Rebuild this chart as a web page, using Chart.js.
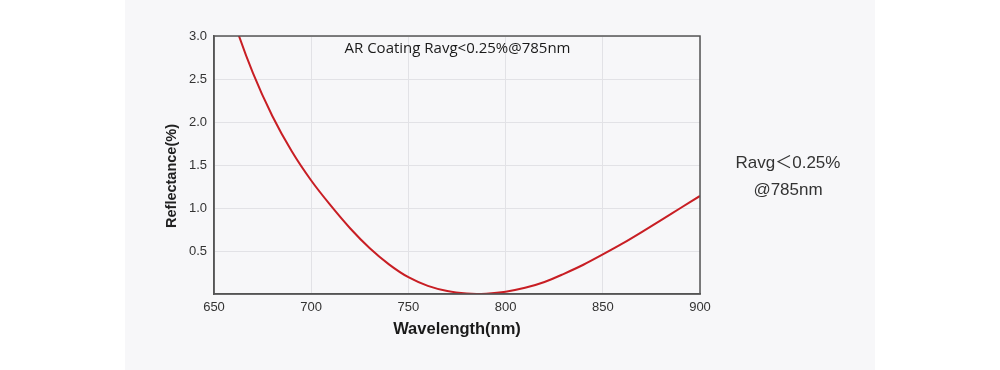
<!DOCTYPE html>
<html>
<head>
<meta charset="utf-8">
<script src="https://cdn.jsdelivr.net/npm/chart.js@4/dist/chart.umd.min.js"></script>
<style>
    html, body { margin: 0; padding: 0; background: #ffffff; }
    #wrap { position: relative; width: 1000px; height: 370px; }
    #panel { position: absolute; left: 125px; top: 0; width: 750px; height: 370px; background: #f7f7f9; }
    #chart { position: absolute; left: 0; top: 0; }
    .note { position: absolute; white-space: nowrap; }
    #inner { left: 215px; width: 485px; top: 37px; text-align: center; font-size: 15px; line-height: 20px;
             color: #1a1a1a; font-family: "Open Sans", "Noto Sans", sans-serif; }
    #side { left: 708px; width: 160px; top: 149px; text-align: center; font-size: 17px; line-height: 27px;
            color: #333; font-family: "Liberation Sans", Arial, "Noto Sans CJK SC", sans-serif; }
    #ytitle { left: 91px; width: 160px; top: 166px; text-align: center; font-size: 14.5px; line-height: 20px;
              font-weight: bold; color: #222; font-family: "Liberation Sans", Arial, sans-serif;
              transform: rotate(-90deg); }
</style>
</head>
<body>
<div id="wrap">
    <div id="panel"></div>
    <canvas id="chart" width="1000" height="370"></canvas>
    <div class="note" id="inner">AR Coating Ravg&lt;0.25%@785nm</div>
    <div class="note" id="side">Ravg＜0.25%<br>@785nm</div>
    <div class="note" id="ytitle">Reflectance(%)</div>
</div>
<script>
// values
const wavelengths = [650, 660, 670, 680, 690, 700, 710, 720, 730, 740, 750, 760, 770, 780, 785, 790, 800, 810, 820, 830, 840, 850, 860, 870, 880, 890, 900];
const reflectance = [3.94, 3.19, 2.57, 2.07, 1.66, 1.32, 1.03, 0.765, 0.535, 0.345, 0.195, 0.095, 0.035, 0.005, 0.0, 0.004, 0.027, 0.072, 0.14, 0.235, 0.34, 0.46, 0.585, 0.72, 0.86, 1.0, 1.14];
const xTicks = [650, 700, 750, 800, 850, 900];
const yTicks = [0.5, 1.0, 1.5, 2.0, 2.5, 3.0];

const points = wavelengths.map((w, i) => ({ x: w, y: reflectance[i] }));

// closes the plot box on the top and right
const frameBox = {
    id: 'frameBox',
    afterDraw(chart) {
        const { ctx, chartArea: a } = chart;
        ctx.save();
        ctx.strokeStyle = '#555';
        ctx.lineWidth = 1.5;
        ctx.strokeRect(a.left, a.top, a.right - a.left, a.bottom - a.top);
        ctx.restore();
    }
};

const tickFont = { family: '"Liberation Sans", Arial, sans-serif', size: 13 };

new Chart(document.getElementById('chart').getContext('2d'), {
    type: 'line',
    data: {
        datasets: [{
            data: points,
            borderColor: '#c81e24',
            borderWidth: 2,
            pointRadius: 0,
            cubicInterpolationMode: 'monotone',
            fill: false
        }]
    },
    options: {
        responsive: false,
        animation: false,
        layout: { padding: { left: 160, right: 300, top: 36, bottom: 0 } },
        plugins: { legend: { display: false }, tooltip: { enabled: false } },
        scales: {
            x: {
                type: 'linear',
                min: 650,
                max: 900,
                afterBuildTicks: (s) => { s.ticks = xTicks.map(v => ({ value: v })); },
                afterFit: (s) => { s.height = 76; },
                grid: { color: '#e2e2e6', drawTicks: false },
                border: { color: '#555', width: 1.5 },
                ticks: { color: '#333', font: tickFont, padding: 6, maxRotation: 0 },
                title: {
                    display: true,
                    text: 'Wavelength(nm)',
                    color: '#1a1a1a',
                    font: { family: '"Liberation Sans", Arial, sans-serif', size: 16.5, weight: 'bold' },
                    padding: { top: 4, bottom: 31 }
                }
            },
            y: {
                min: 0,
                max: 3,
                afterBuildTicks: (s) => { s.ticks = yTicks.map(v => ({ value: v })); },
                afterFit: (s) => { s.width = 54; },
                grid: { color: '#e2e2e6', drawTicks: false },
                border: { color: '#555', width: 1.5 },
                ticks: { color: '#333', font: tickFont, padding: 7, callback: (v) => v.toFixed(1) }
            }
        }
    },
    plugins: [frameBox]
});
</script>
</body>
</html>
